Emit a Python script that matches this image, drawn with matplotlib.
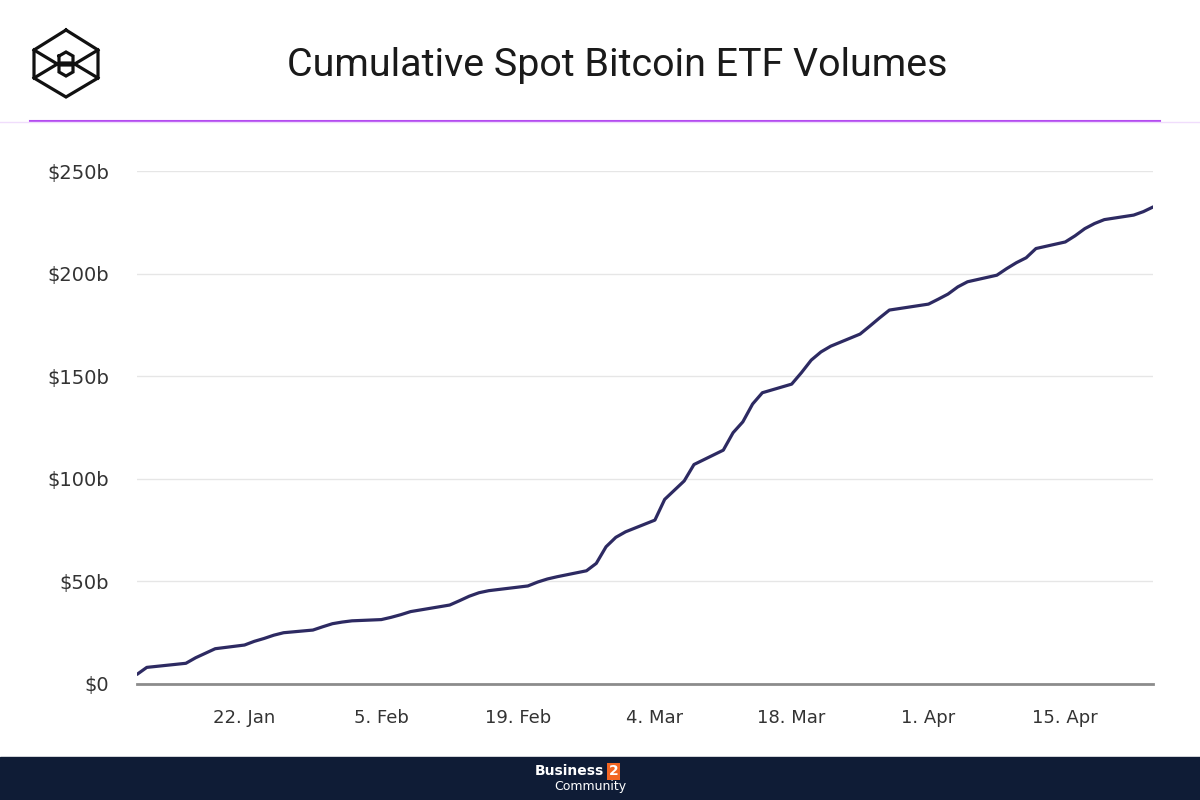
import numpy as np
import pandas as pd
import matplotlib
matplotlib.use("Agg")
import matplotlib.pyplot as plt
import matplotlib.dates as mdates
from matplotlib.lines import Line2D
from matplotlib.patches import Rectangle

# trading days and cumulative volume (billions USD)
fechas = ["2024-01-11", "2024-01-12", "2024-01-16", "2024-01-17", "2024-01-18", "2024-01-19",
          "2024-01-22", "2024-01-23", "2024-01-24", "2024-01-25", "2024-01-26",
          "2024-01-29", "2024-01-30", "2024-01-31", "2024-02-01", "2024-02-02",
          "2024-02-05", "2024-02-06", "2024-02-07", "2024-02-08", "2024-02-09",
          "2024-02-12", "2024-02-13", "2024-02-14", "2024-02-15", "2024-02-16",
          "2024-02-20", "2024-02-21", "2024-02-22", "2024-02-23",
          "2024-02-26", "2024-02-27", "2024-02-28", "2024-02-29", "2024-03-01",
          "2024-03-04", "2024-03-05", "2024-03-06", "2024-03-07", "2024-03-08",
          "2024-03-11", "2024-03-12", "2024-03-13", "2024-03-14", "2024-03-15",
          "2024-03-18", "2024-03-19", "2024-03-20", "2024-03-21", "2024-03-22",
          "2024-03-25", "2024-03-26", "2024-03-27", "2024-03-28",
          "2024-04-01", "2024-04-02", "2024-04-03", "2024-04-04", "2024-04-05",
          "2024-04-08", "2024-04-09", "2024-04-10", "2024-04-11", "2024-04-12",
          "2024-04-15", "2024-04-16", "2024-04-17", "2024-04-18", "2024-04-19",
          "2024-04-22", "2024-04-23", "2024-04-24"]
volumen = [4.7, 8.1, 10.1, 12.8, 15.0, 17.2,
           19.0, 20.8, 22.2, 23.8, 25.0,
           26.3, 27.9, 29.4, 30.2, 30.8,
           31.4, 32.5, 33.8, 35.3, 36.1,
           38.5, 40.6, 42.8, 44.5, 45.5,
           47.8, 49.7, 51.2, 52.3,
           55.2, 58.8, 66.9, 71.5, 74.2,
           79.9, 90.0, 94.5, 99.0, 107.0,
           114.0, 122.5, 127.8, 136.5, 142.0,
           146.2, 151.8, 157.9, 161.9, 164.7,
           170.6, 174.5, 178.5, 182.3,
           185.2, 187.6, 190.1, 193.6, 196.1,
           199.3, 202.5, 205.4, 207.8, 212.3,
           215.5, 218.5, 222.0, 224.5, 226.4,
           228.6, 230.3, 232.6]

ticks_x = ["2024-01-22", "2024-02-05", "2024-02-19", "2024-03-04",
           "2024-03-18", "2024-04-01", "2024-04-15"]
ticks_y = [0, 50, 100, 150, 200, 250]
titulo = "Cumulative Spot Bitcoin ETF Volumes"

x = pd.to_datetime(fechas)
y = np.array(volumen)

fig = plt.figure(figsize=(12, 8), dpi=100)
ax = fig.add_axes([0.1142, 0.145, 0.8468, 0.641])

ax.plot(x, y, color="#2d2a62", lw=2.3, solid_capstyle="round", zorder=3)

ax.set_xlim(x[0], x[-1])
ax.set_ylim(0, 250)
ax.set_yticks(ticks_y)
ax.set_yticklabels(["$0"] + ["$%db" % v for v in ticks_y[1:]])
tx = pd.to_datetime(ticks_x)
ax.set_xticks(mdates.date2num(tx))
ax.set_xticklabels(["%d. %s" % (d.day, d.strftime("%b")) for d in tx])

ax.grid(axis="y", color="#e6e6e6", lw=1)
ax.set_axisbelow(True)
for s in ["top", "right", "left"]:
    ax.spines[s].set_visible(False)
ax.spines["bottom"].set_color("#8c8c8c")
ax.spines["bottom"].set_linewidth(2)
ax.tick_params(axis="y", length=0, pad=20, labelsize=14, labelcolor="#333333")
ax.tick_params(axis="x", length=0, pad=18, labelsize=13, labelcolor="#333333")

# titulo y linea violeta
fig.text(0.514, 0.918, titulo, ha="center", va="center", fontsize=28.4,
         color="#1a1a1a", family="Roboto")
fig.add_artist(Line2D([0.025, 0.967], [0.849, 0.849], color="#b44cf0", lw=1.5))
fig.add_artist(Line2D([0.0, 1.0], [0.847, 0.847], color="#f0ddfc", lw=1))

# logo (cubo)
def px(xp, yp):
    return xp / 1200, 1 - yp / 800

logo = [[(66, 30), (98, 50), (98, 78), (66, 97), (34, 78), (34, 50), (66, 30)],
        [(34, 50), (59, 65), (73, 65), (98, 50)],
        [(34, 78), (59, 63), (73, 63), (98, 78)],
        [(59, 56), (66, 52), (73, 56), (73, 72), (66, 76), (59, 72), (59, 56)]]
for tramo in logo:
    xs, ys = zip(*[px(a, b) for a, b in tramo])
    fig.add_artist(Line2D(xs, ys, color="#111111", lw=2.3, solid_joinstyle="miter"))

# pie de pagina
fig.add_artist(Rectangle((0, 0), 1, 43 / 800, transform=fig.transFigure,
                         color="#0f1c36", zorder=0))
fig.text(0.503, 0.036, "Business", ha="right", va="center", fontsize=10,
         color="white", fontweight="bold")
fig.text(0.507, 0.036, "2", ha="left", va="center", fontsize=10, color="white",
         fontweight="bold", bbox=dict(boxstyle="square,pad=0.1", fc="#f26522", ec="none"))
fig.text(0.522, 0.017, "Community", ha="right", va="center", fontsize=9, color="white")

fig.savefig("out.png", dpi=100)
